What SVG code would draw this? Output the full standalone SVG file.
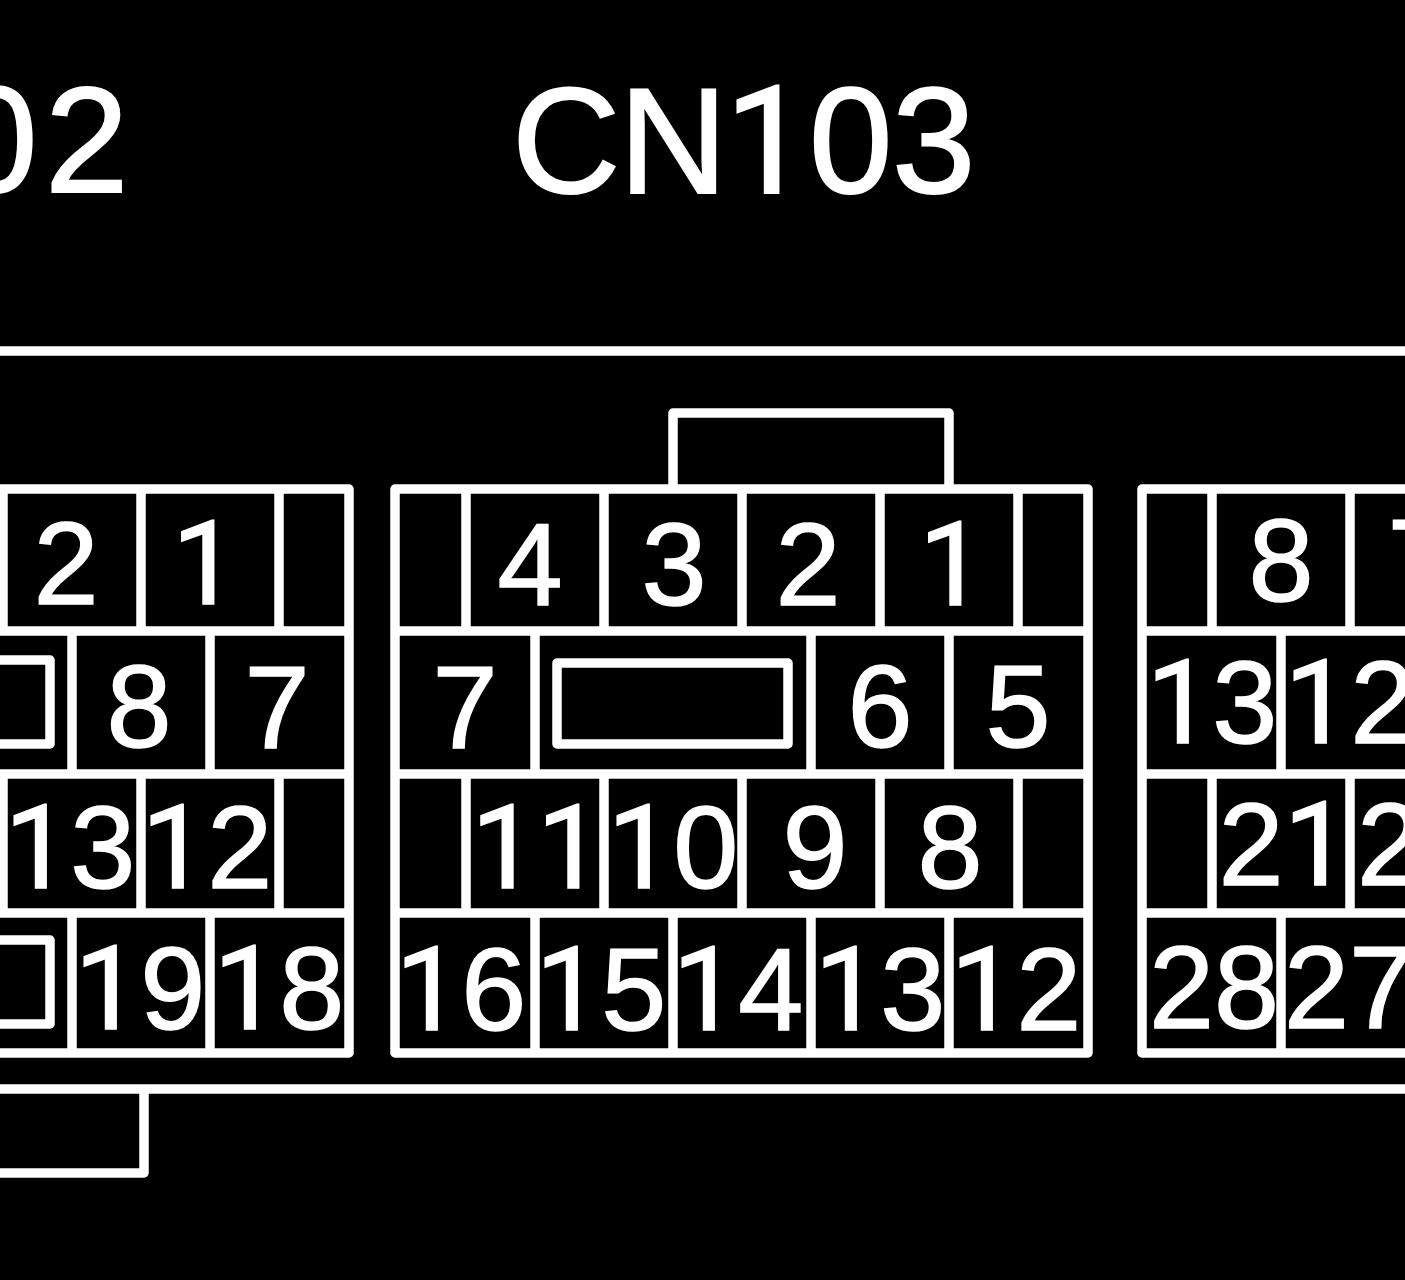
<svg xmlns="http://www.w3.org/2000/svg" width="1405" height="1280" viewBox="0 0 1405 1280">
<style>
.l{fill:none;stroke:#fff;stroke-width:9.5;stroke-linejoin:round}
.n{font-family:"Liberation Sans",Arial,sans-serif;font-size:117px;fill:#fff;stroke:#fff;stroke-width:1.5;text-anchor:middle}
.t{font-family:"Liberation Sans",Arial,sans-serif;font-size:150px;fill:#fff;stroke:#fff;stroke-width:2}
.o{font-family:Roboto,"Liberation Sans",sans-serif}
</style>
<rect width="1405" height="1280" fill="#000"/>
<g id="titles">
<text class="t" y="193"><tspan x="512 619">CN</tspan><tspan class="o" x="725">1</tspan><tspan x="809 892">03</tspan></text>
<text class="t" y="192" x="-46 45">02</text>
</g>
<g id="connectors">
<path class="l" d="M0 351H1405M0 1089H1405M144 1089V1173H0M673 489V413H949V489"/>
</g>
<g id="connector-left">
<path class="l" d="M0 489H349V1053H0M0 631H349M0 774H349M0 913H349M3 489V631M141 489V631M279 489V631M72 631V774M210 631V774M3 774V913M141 774V913M279 774V913M72 913V1053M210 913V1053M0 660H50V744H0M0 940H50V1024H0"/>
<text class="n" x="66" y="604">2</text><text class="n" x="205" y="604"><tspan class="o">1</tspan></text>
<text class="n" x="139" y="747">8</text><text class="n" x="277" y="748">7</text>
<text class="n" x="70" y="888"><tspan class="o">1</tspan>3</text><text class="n" x="207" y="888"><tspan class="o">1</tspan>2</text>
<text class="n" x="140" y="1029"><tspan class="o">1</tspan>9</text><text class="n" x="279" y="1029"><tspan class="o">1</tspan>8</text>
</g>
<g id="connector-center">
<path class="l" d="M395 489H1088V1053H395ZM395 631H1088M395 774H1088M395 913H1088M466 489V631M604 489V631M742 489V631M880 489V631M1018 489V631M535 631V774M811 631V774M949 631V774M466 774V913M604 774V913M742 774V913M880 774V913M1018 774V913M535 913V1053M673 913V1053M811 913V1053M949 913V1053M557 663H788V744H557Z"/>
<text class="n" x="530" y="605">4</text><text class="n" x="674" y="605">3</text><text class="n" x="808" y="605">2</text><text class="n" x="952" y="605"><tspan class="o">1</tspan></text>
<text class="n" x="465" y="748">7</text><text class="n" x="880" y="747">6</text><text class="n" x="1018" y="747">5</text>
<text class="n" x="537" y="888"><tspan class="o">11</tspan></text><text class="n" x="673" y="888"><tspan class="o">1</tspan>0</text><text class="n" x="815" y="888">9</text><text class="n" x="950" y="888">8</text>
<text class="n" x="461" y="1030"><tspan class="o">1</tspan>6</text><text class="n" x="601" y="1030"><tspan class="o">1</tspan>5</text><text class="n" x="738" y="1030"><tspan class="o">1</tspan>4</text><text class="n" x="880" y="1030"><tspan class="o">1</tspan>3</text><text class="n" x="1016" y="1030"><tspan class="o">1</tspan>2</text>
</g>
<g id="connector-right">
<path class="l" d="M1405 489H1142V1053H1405M1142 631H1405M1142 774H1405M1142 913H1405M1212 489V631M1350 489V631M1281 631V774M1212 774V913M1350 774V913M1281 913V1053"/>
<text class="n" x="1281" y="601">8</text><text class="n" x="1420" y="601">7</text>
<text class="n" x="1212" y="743"><tspan class="o">1</tspan>3</text><text class="n" x="1350" y="743"><tspan class="o">1</tspan>2</text>
<text class="n" x="1284" y="885">2<tspan class="o">1</tspan></text><text class="n" x="1422" y="885">20</text>
<text class="n" x="1214" y="1028">28</text><text class="n" x="1349" y="1028">27</text>
</g>
</svg>
